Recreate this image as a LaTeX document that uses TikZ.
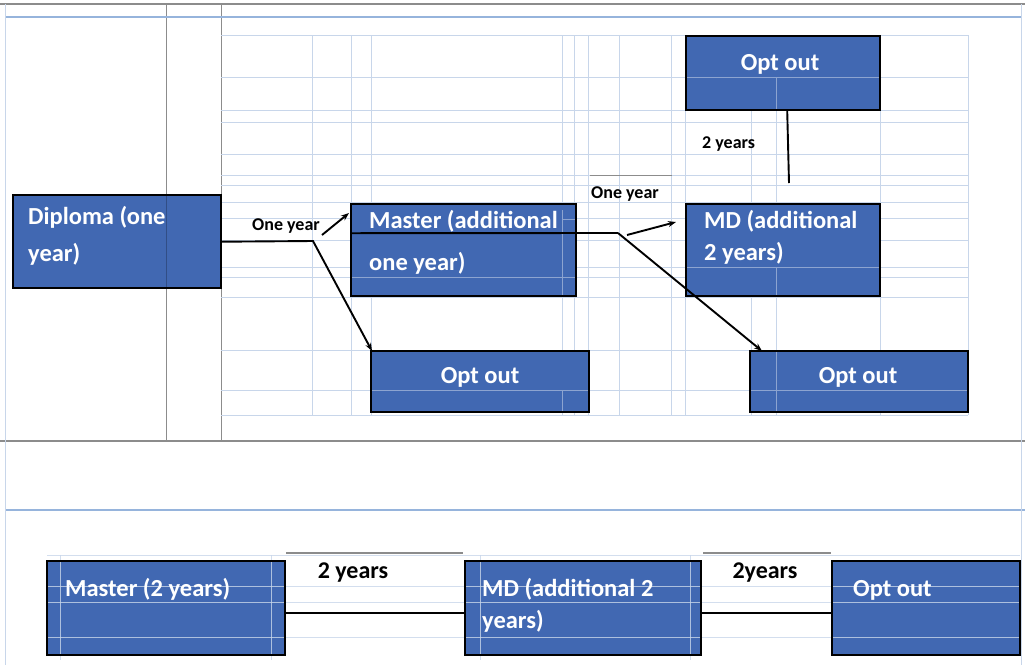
\documentclass[tikz,border=0pt]{standalone}
\usepackage{fontspec}
\setmainfont{Carlito}
\usetikzlibrary{arrows.meta}
\definecolor{boxblue}{RGB}{65,104,178}
\definecolor{gridline}{RGB}{200,214,234}
\definecolor{rulegray}{RGB}{140,140,140}
\definecolor{ruleblue}{RGB}{150,180,220}
\begin{document}
\begin{tikzpicture}[x=1pt,y=-1pt,
  box/.style={fill=boxblue, draw=none, inner sep=0pt, anchor=north west},
  border/.style={draw=black, line width=2pt},
  boxtext/.style={text=white, font=\fontsize{24.5}{29}\selectfont\bfseries, inner sep=0pt, anchor=base west},
  lbl/.style={text=black, font=\fontsize{18}{22}\selectfont\bfseries, inner sep=0pt, anchor=base west},
  biglbl/.style={text=black, font=\fontsize{24}{28}\selectfont\bfseries, inner sep=0pt, anchor=base},
  conn/.style={draw=black, line width=1.9pt},
  arr/.style={conn, -{Stealth[length=8pt,width=6pt]}},
  gridl/.style={draw=gridline, line width=0.8pt},
  inbox/.style={draw=white, line width=1pt, opacity=0.4}]
\useasboundingbox (0,0) rectangle (1025,665);
\fill[white] (0,0) rectangle (1025,665);

% table frame
\draw[rulegray, line width=1.2pt] (0,4) -- (1025,4);
\draw[rulegray, line width=1pt] (166,4) -- (166,440);
\draw[rulegray, line width=1pt] (221,4) -- (221,440);
\draw[rulegray, line width=1.2pt] (0,441) -- (1025,441);
\draw[ruleblue, line width=1.2pt] (5,17) -- (1021,17);
\draw[ruleblue, line width=1.2pt] (5,510) -- (1025,510);
\draw[gridline, line width=1pt] (5,4) -- (5,665);
\draw[gridline, line width=1pt] (1021,4) -- (1021,665);

% cell grid of the layout table
\foreach \y in {35,77,110,122,154,175,185,202,218,240,267,277,297,350,390,415}
  \draw[gridl] (221,\y) -- (968,\y);
\foreach \x in {312,351,371,562,574,588,619,671,685,751,776,880,968}
  \draw[gridl] (\x,35) -- (\x,415);

% boxes
\node[box, minimum width=208pt, minimum height=93pt] (dip)  at (13,195) {};
\node[box, minimum width=225pt, minimum height=92pt] (mas)  at (351,204) {};
\node[box, minimum width=194pt, minimum height=74pt] (optA) at (686,36) {};
\node[box, minimum width=194pt, minimum height=92pt] (md)   at (686,204) {};
\node[box, minimum width=218pt, minimum height=61pt] (optB) at (371,351) {};
\node[box, minimum width=218pt, minimum height=61pt] (optC) at (750,351) {};
\node[box, minimum width=238pt, minimum height=94pt] (bmas) at (47,561) {};
\node[box, minimum width=236pt, minimum height=94pt] (bmd)  at (465,561) {};
\node[box, minimum width=188pt, minimum height=94pt] (bopt) at (832,561) {};

% cell rules showing through the boxes
\draw[boxblue!75!black, line width=1pt] (166,195) -- (166,288);
\draw[inbox] (686,77) -- (880,77) (776,77) -- (776,110);
\draw[inbox] (351,277) -- (576,277) (562,210) -- (562,296) (562,219) -- (576,219);
\draw[inbox] (686,267) -- (880,267) (776,267) -- (776,296);
\draw[inbox] (371,390) -- (589,390) (562,390) -- (562,412);
\draw[inbox] (750,390) -- (968,390) (776,351) -- (776,412);
\foreach \y in {555,586,602,637}
  \draw[gridl, opacity=0.8] (47,\y) -- (1020,\y);
\foreach \x in {60,271,480,690}
  \draw[gridl, opacity=0.8] (\x,555) -- (\x,660);

% cell rules above the labels
\draw[rulegray, line width=1pt] (590,175) -- (672,175);
\draw[rulegray, line width=1.2pt] (286,553) -- (463,553);
\draw[rulegray, line width=1.2pt] (703,553) -- (831,553);

% box borders
\foreach \n in {dip,mas,optA,md,optB,optC,bmas,bmd,bopt}
  \draw[border] (\n.north west) rectangle (\n.south east);

% box texts
\node[boxtext] (dip1) at (28,224) {Diploma (one};
\node[boxtext] (dip2) at (28,261) {year)};
\node[boxtext] (mas1) at (369,228) {Master (additional};
\node[boxtext] (mas2) at (369,270) {one year)};
\node[boxtext, anchor=base] (optAt) at (780,70) {Opt out};
\node[boxtext] (md1) at (704,228) {MD (additional};
\node[boxtext] (md2) at (704,260) {2 years)};
\node[boxtext, anchor=base] (optBt) at (480,383) {Opt out};
\node[boxtext, anchor=base] (optCt) at (858,383) {Opt out};
\node[boxtext] (bmas1) at (65,596) {Master (2 years)};
\node[boxtext] (bmd1) at (482,596) {MD (additional 2};
\node[boxtext] (bmd2) at (482,628) {years)};
\node[boxtext] (bopt1) at (853,596) {Opt out};

% connector labels
\node[lbl] (oy1) at (252,230) {One year};
\node[lbl] (oy2) at (591,198) {One year};
\node[lbl] (ty1) at (702,148) {2 years};
\node[biglbl] (ty2) at (353,578) {2 years};
\node[biglbl] (ty3) at (765,578) {2years};

% connectors
\coordinate (s1) at (313,241);
\draw[arr] (dip.east) -- (s1) -- ([xshift=1pt]optB.north west);
\coordinate (a1) at (322,235);
\draw[arr] (a1) -- ([xshift=-2pt,yshift=-9pt]mas.north west);
\coordinate (s2) at (618,233);
\draw[conn] ([yshift=17pt]mas.west) -- (s2);
\draw[arr] (s2) -- ([xshift=12pt]optC.north west);
\coordinate (a2) at (627,235);
\draw[arr] (a2) -- ([xshift=-10pt,yshift=-18pt]md.north west);
\coordinate (v1) at (789,183);
\draw[conn] ([xshift=4pt]optA.south) -- (v1);
\draw[conn] ([yshift=-5pt]bmas.east) -- ([yshift=-5pt]bmd.west);
\draw[conn] ([yshift=-5pt]bmd.east) -- ([yshift=-5pt]bopt.west);
\end{tikzpicture}
\end{document}
